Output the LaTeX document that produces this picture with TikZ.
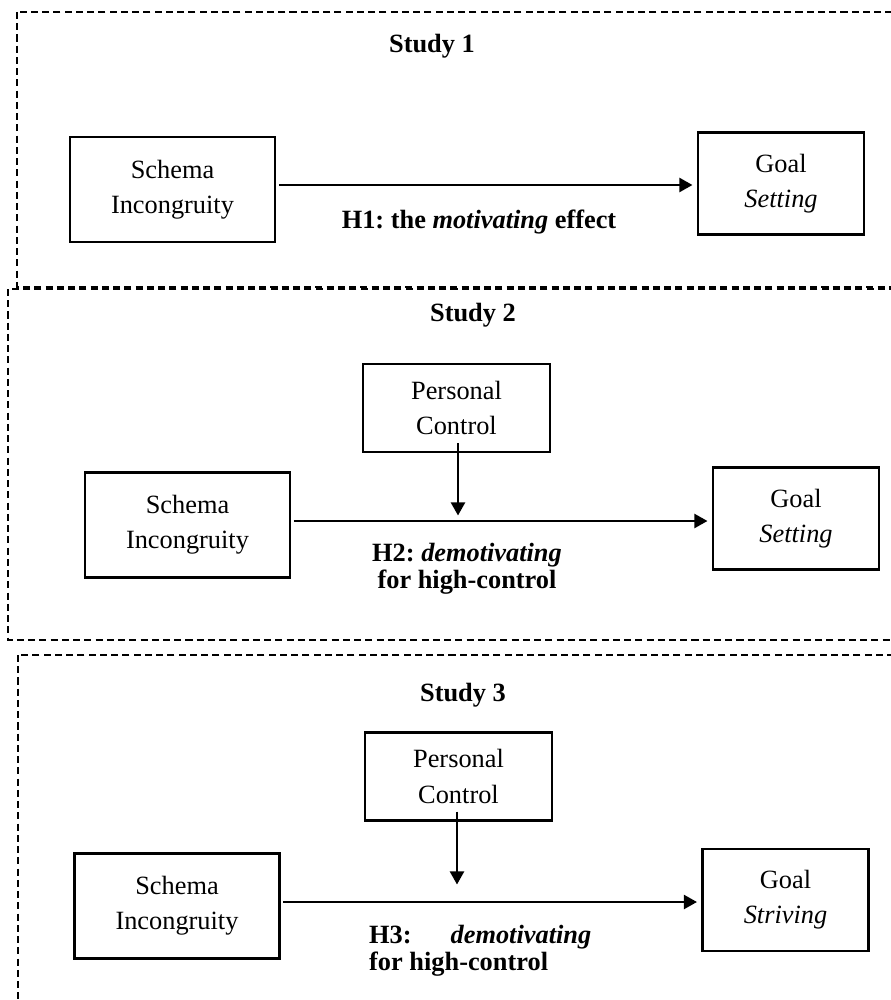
\documentclass[tikz,border=0pt]{standalone}
\usepackage{fontspec}
\setmainfont{Liberation Serif}
\usepackage{tikz}
\usetikzlibrary{arrows.meta, positioning, calc}

\newcommand{\boxfont}{\fontsize{15}{20}\selectfont}
\frenchspacing

\begin{document}
\begin{tikzpicture}[
      x=0.02cm, y=-0.02cm,
      box/.style={draw, rectangle, line width=1.3pt, inner sep=0pt,
                  minimum width=4.1cm, minimum height=2.1cm,
                  align=center, font=\boxfont},
      goalbox/.style={box, minimum width=3.32cm, minimum height=2.04cm},
      ctrlbox/.style={box, minimum width=3.74cm, minimum height=1.76cm},
      title/.style={font=\bfseries\fontsize{15}{18}\selectfont},
      hyp/.style={align=center, font=\bfseries\fontsize{15}{15.5}\selectfont},
      study/.style={line width=0.7pt, dash pattern=on 4pt off 2.4pt},
      arr/.style={-{Triangle[length=7.5pt, width=8pt]}, line width=1.4pt,
                  shorten <=1.5pt, shorten >=2.5pt}
    ]
      \useasboundingbox (0,0) rectangle (891,1000);
      \clip (0,0) rectangle (891,1000);

      % study frames
      \draw[study] (17,12)  rectangle (905,287);
      \draw[study] (8,289)  rectangle (905,640);
      \draw[study] (18,655) rectangle (905,1010);

      % Study 1
      \node[title] (title1) at (432,46) {Study 1};
      \node[box] (schema1) at (172.5,189.5) {Schema\\Incongruity};
      \node[goalbox] (goal1) at (781,183.5) {Goal\\\textit{Setting}};
      \draw[arr] (schema1.east |- 0,185) -- (goal1.west |- 0,185);
      \node[hyp] (h1) at (479,222) {H1: the \textit{motivating} effect};

      % Study 2
      \node[title] (title2) at (473,315) {Study 2};
      \node[ctrlbox] (ctrl2) at (456.5,408) {Personal\\Control};
      \node[box] (schema2) at (187.5,525) {Schema\\Incongruity};
      \node[goalbox] (goal2) at (796,518.5) {Goal\\\textit{Setting}};
      \draw[arr] (schema2.east |- 0,521) -- (goal2.west |- 0,521);
      \coordinate (j2) at (458,515.5);
      \draw[arr, shorten <=-0.2cm, shorten >=0pt] (ctrl2.south -| j2) -- (j2);
      \node[hyp] (h2) at (467,569) {H2: \textit{demotivating}\\for high-control};

      % Study 3
      \node[title] (title3) at (463,695) {Study 3};
      \node[ctrlbox] (ctrl3) at (458.5,776.5) {Personal\\Control};
      \node[box] (schema3) at (177,906) {Schema\\Incongruity};
      \node[goalbox] (goal3) at (785.5,900) {Goal\\\textit{Striving}};
      \draw[arr] (schema3.east |- 0,902) -- (goal3.west |- 0,902);
      \coordinate (j3) at (457,884.5);
      \draw[arr, shorten <=-0.2cm, shorten >=0pt] (ctrl3.south -| j3) -- (j3);
      \node[hyp, align=left, anchor=west] (h3) at (363,951)
        {H3:\hspace{0.78cm}\textit{demotivating}\\for high-control};
\end{tikzpicture}
\end{document}
